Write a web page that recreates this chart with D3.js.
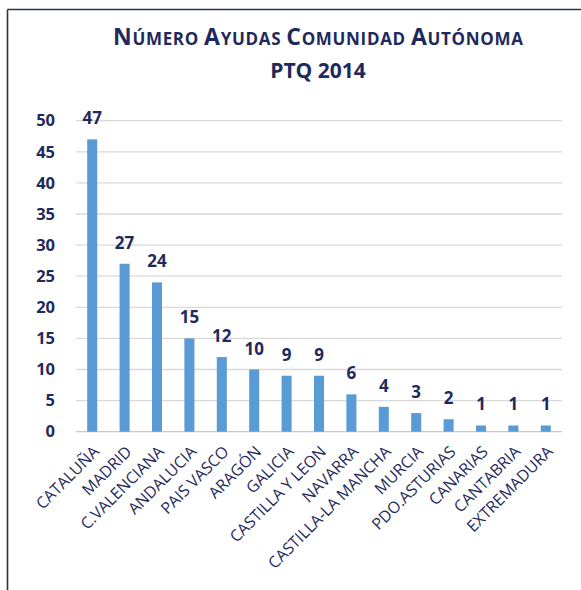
<!DOCTYPE html>
<html>
<head>
<meta charset="utf-8">
<script src="https://cdn.jsdelivr.net/npm/d3@7"></script>
<style>
  body { margin: 0; background: #fff; }
  svg { display: block; }
</style>
</head>
<body>
<svg></svg>
<script>
// data
var regions = ["CATALUÑA", "MADRID", "C.VALENCIANA", "ANDALUCIA", "PAIS VASCO", "ARAGÓN",
               "GALICIA", "CASTILLA Y LEON", "NAVARRA", "CASTILLA-LA MANCHA", "MURCIA",
               "PDO.ASTURIAS", "CANARIAS", "CANTABRIA", "EXTREMADURA"];
var ayudas = [47, 27, 24, 15, 12, 10, 9, 9, 6, 4, 3, 2, 1, 1, 1];
var yTicks = [0, 5, 10, 15, 20, 25, 30, 35, 40, 45, 50];

var screen = {width: 581, height: 590};
var margins = {top: 120.7, left: 76, right: 19, bottom: 158.3};
var navy = "#1f2a5c";
var font = "'Open Sans', sans-serif";

var svg = d3.select("svg")
            .attr("width", screen.width)
            .attr("height", screen.height);

// frame (top + left lines)
svg.append("line")
   .attr("x1", 7.5).attr("x2", screen.width).attr("y1", 9.5).attr("y2", 9.5)
   .attr("stroke", "#2b3252").attr("stroke-width", 1.6);
svg.append("line")
   .attr("x1", 7.5).attr("x2", 7.5).attr("y1", 9.5).attr("y2", screen.height)
   .attr("stroke", "#2b3252").attr("stroke-width", 1.6);

// title
var title = svg.append("text")
   .attr("x", 318).attr("y", 45)
   .attr("text-anchor", "middle")
   .attr("fill", navy)
   .attr("font-family", font)
   .attr("font-weight", "bold")
   .attr("textLength", 410)
   .attr("lengthAdjust", "spacing");
[["N", 23], ["ÚMERO ", 17], ["A", 23], ["YUDAS ", 17], ["C", 23], ["OMUNIDAD ", 17], ["A", 23], ["UTÓNOMA", 17]]
  .forEach(function(p){
    title.append("tspan").attr("font-size", p[1]).text(p[0]);
  });
svg.append("text")
   .attr("x", 318).attr("y", 78)
   .attr("text-anchor", "middle")
   .attr("fill", navy)
   .attr("font-family", font)
   .attr("font-weight", "bold")
   .attr("font-size", 21)
   .text("PTQ 2014");

var width = screen.width - margins.left - margins.right;
var height = screen.height - margins.top - margins.bottom;

//scales
var xScale = d3.scaleBand()
               .domain(regions)
               .range([margins.left, margins.left + width])
               .paddingInner(0.69)
               .paddingOuter(0.345);

var yScale = d3.scaleLinear()
               .domain([0, 50])
               .range([margins.top + height, margins.top]);

// gridlines
svg.append("g")
   .selectAll("line")
   .data(yTicks)
   .enter()
   .append("line")
   .attr("x1", margins.left)
   .attr("x2", margins.left + width)
   .attr("y1", function(d){return yScale(d)})
   .attr("y2", function(d){return yScale(d)})
   .attr("stroke", function(d){return d == 0 ? "#c8c8c8" : "#d9d9d9"})
   .attr("stroke-width", 1.3);

// y axis
var yAxis = svg.append("g")
   .attr("transform", "translate(" + margins.left + ",0)")
   .call(d3.axisLeft(yScale).tickValues(yTicks).tickSize(0).tickPadding(21));
yAxis.select(".domain").remove();
yAxis.selectAll("text")
     .attr("fill", navy)
     .attr("font-family", font)
     .attr("font-weight", "bold")
     .attr("font-size", 16.5);

// x axis
var xAxis = svg.append("g")
   .attr("transform", "translate(0," + (margins.top + height) + ")")
   .call(d3.axisBottom(xScale).tickSize(0).tickPadding(0));
xAxis.select(".domain").remove();
xAxis.selectAll("text")
     .attr("fill", navy)
     .attr("font-family", font)
     .attr("font-size", 16)
     .attr("dy", 0)
     .attr("transform", "translate(8,21)rotate(-45)")
     .style("text-anchor", "end");

//bars
svg.selectAll("rect.bar")
   .data(ayudas)
   .enter()
   .append("rect")
   .attr("class", "bar")
   .attr("x", function(d, i){return xScale(regions[i])})
   .attr("y", function(d){return yScale(d)})
   .attr("width", xScale.bandwidth())
   .attr("height", function(d){return yScale(0) - yScale(d)})
   .attr("fill", "#5b9bd5");

// value labels
svg.selectAll("text.val")
   .data(ayudas)
   .enter()
   .append("text")
   .attr("class", "val")
   .attr("x", function(d, i){return xScale(regions[i]) + xScale.bandwidth() / 2})
   .attr("y", function(d){return yScale(d) - 15})
   .attr("text-anchor", "middle")
   .attr("fill", navy)
   .attr("font-family", font)
   .attr("font-weight", "bold")
   .attr("font-size", 17)
   .text(function(d){return d});
</script>
</body>
</html>
